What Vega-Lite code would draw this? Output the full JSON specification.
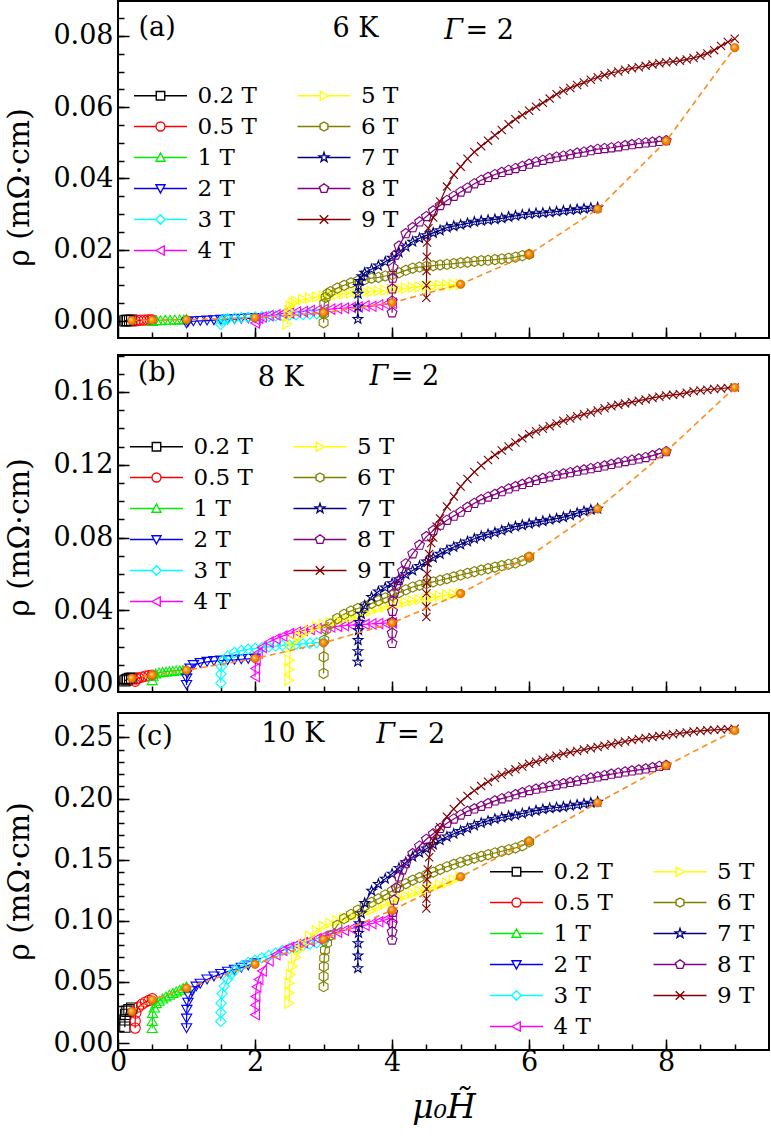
{
"$schema":"https://vega.github.io/schema/vega-lite/v6.json",
"background":"white",
"padding":{"left":3,"top":0,"right":0,"bottom":0},
"config":{"view":{"stroke":"black","strokeWidth":2},"axis":{"labelFlush":false,"labelOverlap":false,"domain":false,"grid":false,"tickColor":"black","tickWidth":1.5,"labelColor":"black","titleColor":"black","labelFont":"DejaVu Serif","titleFont":"DejaVu Serif","titleFontWeight":"normal"},"legend":{"labelFont":"DejaVu Serif","labelFontSize":23,"labelColor":"black"}},
"datasets":{
"a":[
{"s":"0.2 T","x":0.1,"y":0},{"s":"0.2 T","x":0.12,"y":0.0001},{"s":"0.2 T","x":0.14,"y":0.0001},{"s":"0.2 T","x":0.17,"y":0.0001},{"s":"0.2 T","x":0.2,"y":0.0002},
{"s":"0.5 T","x":0.25,"y":0},{"s":"0.5 T","x":0.29,"y":0.0001},{"s":"0.5 T","x":0.33,"y":0.0002},{"s":"0.5 T","x":0.38,"y":0.0002},{"s":"0.5 T","x":0.43,"y":0.0003},{"s":"0.5 T","x":0.47,"y":0.0003},{"s":"0.5 T","x":0.5,"y":0.0003},
{"s":"1 T","x":0.5,"y":0},{"s":"1 T","x":0.56,"y":0.0002},{"s":"1 T","x":0.62,"y":0.0002},{"s":"1 T","x":0.69,"y":0.0003},{"s":"1 T","x":0.76,"y":0.0003},{"s":"1 T","x":0.83,"y":0.0004},{"s":"1 T","x":0.9,"y":0.0004},{"s":"1 T","x":0.96,"y":0.0004},{"s":"1 T","x":1.0,"y":0.0005},
{"s":"2 T","x":1.0,"y":-0.0007},{"s":"2 T","x":1.02,"y":-0.0003},{"s":"2 T","x":1.1,"y":-0.0001},{"s":"2 T","x":1.2,"y":0},{"s":"2 T","x":1.3,"y":0.0001},{"s":"2 T","x":1.4,"y":0.0002},{"s":"2 T","x":1.5,"y":0.0003},{"s":"2 T","x":1.6,"y":0.0004},{"s":"2 T","x":1.7,"y":0.0005},{"s":"2 T","x":1.8,"y":0.0006},{"s":"2 T","x":1.9,"y":0.0007},{"s":"2 T","x":2.0,"y":0.0008},
{"s":"3 T","x":1.5,"y":-0.001},{"s":"3 T","x":1.51,"y":0},{"s":"3 T","x":1.55,"y":0.0004},{"s":"3 T","x":1.6,"y":0.0006},{"s":"3 T","x":1.7,"y":0.0008},{"s":"3 T","x":1.8,"y":0.0009},{"s":"3 T","x":1.9,"y":0.001},{"s":"3 T","x":2.0,"y":0.0011},{"s":"3 T","x":2.1,"y":0.0012},{"s":"3 T","x":2.2,"y":0.0013},{"s":"3 T","x":2.3,"y":0.0014},{"s":"3 T","x":2.4,"y":0.0015},{"s":"3 T","x":2.5,"y":0.0016},{"s":"3 T","x":2.6,"y":0.0017},{"s":"3 T","x":2.7,"y":0.0018},{"s":"3 T","x":2.8,"y":0.0019},{"s":"3 T","x":2.9,"y":0.002},{"s":"3 T","x":3.0,"y":0.0021},
{"s":"4 T","x":2.0,"y":-0.0006},{"s":"4 T","x":2.01,"y":0.0003},{"s":"4 T","x":2.05,"y":0.0008},{"s":"4 T","x":2.1,"y":0.0011},{"s":"4 T","x":2.2,"y":0.0015},{"s":"4 T","x":2.3,"y":0.0017},{"s":"4 T","x":2.4,"y":0.0021},{"s":"4 T","x":2.5,"y":0.0022},{"s":"4 T","x":2.6,"y":0.0025},{"s":"4 T","x":2.7,"y":0.0026},{"s":"4 T","x":2.8,"y":0.0029},{"s":"4 T","x":2.9,"y":0.003},{"s":"4 T","x":3.0,"y":0.0032},{"s":"4 T","x":3.1,"y":0.0033},{"s":"4 T","x":3.2,"y":0.0035},{"s":"4 T","x":3.3,"y":0.0036},{"s":"4 T","x":3.4,"y":0.0038},{"s":"4 T","x":3.5,"y":0.0039},{"s":"4 T","x":3.6,"y":0.0042},{"s":"4 T","x":3.7,"y":0.0041},{"s":"4 T","x":3.8,"y":0.0045},{"s":"4 T","x":3.9,"y":0.0046},{"s":"4 T","x":4.0,"y":0.0049},
{"s":"5 T","x":2.47,"y":-0.0009},{"s":"5 T","x":2.49,"y":0.0015},{"s":"5 T","x":2.5,"y":0.0028},{"s":"5 T","x":2.52,"y":0.0042},{"s":"5 T","x":2.56,"y":0.005},{"s":"5 T","x":2.6,"y":0.0055},{"s":"5 T","x":2.7,"y":0.006},{"s":"5 T","x":2.8,"y":0.0064},{"s":"5 T","x":2.9,"y":0.0067},{"s":"5 T","x":3.0,"y":0.007},{"s":"5 T","x":3.1,"y":0.0072},{"s":"5 T","x":3.2,"y":0.0074},{"s":"5 T","x":3.3,"y":0.0076},{"s":"5 T","x":3.4,"y":0.0078},{"s":"5 T","x":3.5,"y":0.008},{"s":"5 T","x":3.6,"y":0.0081},{"s":"5 T","x":3.7,"y":0.0082},{"s":"5 T","x":3.8,"y":0.0084},{"s":"5 T","x":3.9,"y":0.0086},{"s":"5 T","x":4.0,"y":0.0088},{"s":"5 T","x":4.1,"y":0.009},{"s":"5 T","x":4.2,"y":0.0092},{"s":"5 T","x":4.3,"y":0.0094},{"s":"5 T","x":4.4,"y":0.0096},{"s":"5 T","x":4.5,"y":0.0097},{"s":"5 T","x":4.6,"y":0.0099},{"s":"5 T","x":4.7,"y":0.01},{"s":"5 T","x":4.8,"y":0.0101},{"s":"5 T","x":4.9,"y":0.0102},{"s":"5 T","x":5.0,"y":0.0103},
{"s":"6 T","x":3.0,"y":-0.0005},{"s":"6 T","x":3.005,"y":0.002},{"s":"6 T","x":3.01,"y":0.0048},{"s":"6 T","x":3.03,"y":0.0066},{"s":"6 T","x":3.06,"y":0.0076},{"s":"6 T","x":3.1,"y":0.0082},{"s":"6 T","x":3.2,"y":0.0092},{"s":"6 T","x":3.3,"y":0.01},{"s":"6 T","x":3.4,"y":0.0107},{"s":"6 T","x":3.5,"y":0.0112},{"s":"6 T","x":3.6,"y":0.0116},{"s":"6 T","x":3.7,"y":0.012},{"s":"6 T","x":3.8,"y":0.0122},{"s":"6 T","x":3.9,"y":0.0126},{"s":"6 T","x":4.0,"y":0.013},{"s":"6 T","x":4.1,"y":0.0135},{"s":"6 T","x":4.2,"y":0.0142},{"s":"6 T","x":4.3,"y":0.0148},{"s":"6 T","x":4.4,"y":0.0151},{"s":"6 T","x":4.5,"y":0.0153},{"s":"6 T","x":4.6,"y":0.0155},{"s":"6 T","x":4.7,"y":0.0157},{"s":"6 T","x":4.8,"y":0.0159},{"s":"6 T","x":4.9,"y":0.0161},{"s":"6 T","x":5.0,"y":0.0163},{"s":"6 T","x":5.1,"y":0.0165},{"s":"6 T","x":5.2,"y":0.0167},{"s":"6 T","x":5.3,"y":0.0169},{"s":"6 T","x":5.4,"y":0.017},{"s":"6 T","x":5.5,"y":0.0172},{"s":"6 T","x":5.6,"y":0.0174},{"s":"6 T","x":5.7,"y":0.0176},{"s":"6 T","x":5.8,"y":0.0179},{"s":"6 T","x":5.9,"y":0.0183},{"s":"6 T","x":6.0,"y":0.0187},
{"s":"7 T","x":3.5,"y":0.0005},{"s":"7 T","x":3.501,"y":0.004},{"s":"7 T","x":3.503,"y":0.0076},{"s":"7 T","x":3.51,"y":0.0098},{"s":"7 T","x":3.53,"y":0.0112},{"s":"7 T","x":3.56,"y":0.0125},{"s":"7 T","x":3.6,"y":0.0135},{"s":"7 T","x":3.7,"y":0.0145},{"s":"7 T","x":3.8,"y":0.0155},{"s":"7 T","x":3.9,"y":0.0166},{"s":"7 T","x":4.0,"y":0.0177},{"s":"7 T","x":4.1,"y":0.0192},{"s":"7 T","x":4.2,"y":0.0208},{"s":"7 T","x":4.3,"y":0.0222},{"s":"7 T","x":4.4,"y":0.0232},{"s":"7 T","x":4.5,"y":0.024},{"s":"7 T","x":4.6,"y":0.0247},{"s":"7 T","x":4.7,"y":0.0254},{"s":"7 T","x":4.8,"y":0.0262},{"s":"7 T","x":4.9,"y":0.0266},{"s":"7 T","x":5.0,"y":0.027},{"s":"7 T","x":5.1,"y":0.0274},{"s":"7 T","x":5.2,"y":0.0278},{"s":"7 T","x":5.3,"y":0.0281},{"s":"7 T","x":5.4,"y":0.0283},{"s":"7 T","x":5.5,"y":0.0285},{"s":"7 T","x":5.6,"y":0.0288},{"s":"7 T","x":5.7,"y":0.0292},{"s":"7 T","x":5.8,"y":0.0295},{"s":"7 T","x":5.9,"y":0.0298},{"s":"7 T","x":6.0,"y":0.03},{"s":"7 T","x":6.1,"y":0.0302},{"s":"7 T","x":6.2,"y":0.0303},{"s":"7 T","x":6.3,"y":0.0305},{"s":"7 T","x":6.4,"y":0.0307},{"s":"7 T","x":6.5,"y":0.0309},{"s":"7 T","x":6.6,"y":0.0311},{"s":"7 T","x":6.7,"y":0.0313},{"s":"7 T","x":6.8,"y":0.0315},{"s":"7 T","x":6.9,"y":0.0317},{"s":"7 T","x":7.0,"y":0.0318},
{"s":"8 T","x":4.0,"y":0.0023},{"s":"8 T","x":4.001,"y":0.0056},{"s":"8 T","x":4.003,"y":0.009},{"s":"8 T","x":4.008,"y":0.012},{"s":"8 T","x":4.015,"y":0.015},{"s":"8 T","x":4.05,"y":0.0185},{"s":"8 T","x":4.1,"y":0.021},{"s":"8 T","x":4.2,"y":0.0245},{"s":"8 T","x":4.3,"y":0.0262},{"s":"8 T","x":4.4,"y":0.0278},{"s":"8 T","x":4.5,"y":0.0293},{"s":"8 T","x":4.6,"y":0.0309},{"s":"8 T","x":4.7,"y":0.0324},{"s":"8 T","x":4.8,"y":0.0338},{"s":"8 T","x":4.9,"y":0.035},{"s":"8 T","x":5.0,"y":0.0362},{"s":"8 T","x":5.1,"y":0.0373},{"s":"8 T","x":5.2,"y":0.0385},{"s":"8 T","x":5.3,"y":0.0395},{"s":"8 T","x":5.4,"y":0.0403},{"s":"8 T","x":5.5,"y":0.0411},{"s":"8 T","x":5.6,"y":0.0417},{"s":"8 T","x":5.7,"y":0.0423},{"s":"8 T","x":5.8,"y":0.0428},{"s":"8 T","x":5.9,"y":0.0434},{"s":"8 T","x":6.0,"y":0.044},{"s":"8 T","x":6.1,"y":0.0446},{"s":"8 T","x":6.2,"y":0.0451},{"s":"8 T","x":6.3,"y":0.0456},{"s":"8 T","x":6.4,"y":0.046},{"s":"8 T","x":6.5,"y":0.0463},{"s":"8 T","x":6.6,"y":0.0467},{"s":"8 T","x":6.7,"y":0.0471},{"s":"8 T","x":6.8,"y":0.0474},{"s":"8 T","x":6.9,"y":0.0478},{"s":"8 T","x":7.0,"y":0.0482},{"s":"8 T","x":7.1,"y":0.0484},{"s":"8 T","x":7.2,"y":0.0486},{"s":"8 T","x":7.3,"y":0.0489},{"s":"8 T","x":7.4,"y":0.0492},{"s":"8 T","x":7.5,"y":0.0495},{"s":"8 T","x":7.6,"y":0.0498},{"s":"8 T","x":7.7,"y":0.05},{"s":"8 T","x":7.8,"y":0.0502},{"s":"8 T","x":7.9,"y":0.0504},{"s":"8 T","x":8.0,"y":0.0506},
{"s":"9 T","x":4.5,"y":0.0065},{"s":"9 T","x":4.501,"y":0.01},{"s":"9 T","x":4.503,"y":0.014},{"s":"9 T","x":4.506,"y":0.018},{"s":"9 T","x":4.51,"y":0.022},{"s":"9 T","x":4.53,"y":0.026},{"s":"9 T","x":4.6,"y":0.029},{"s":"9 T","x":4.7,"y":0.0335},{"s":"9 T","x":4.8,"y":0.0377},{"s":"9 T","x":4.9,"y":0.041},{"s":"9 T","x":5.0,"y":0.0433},{"s":"9 T","x":5.1,"y":0.0455},{"s":"9 T","x":5.2,"y":0.0474},{"s":"9 T","x":5.3,"y":0.049},{"s":"9 T","x":5.4,"y":0.0506},{"s":"9 T","x":5.5,"y":0.0521},{"s":"9 T","x":5.6,"y":0.0536},{"s":"9 T","x":5.7,"y":0.0552},{"s":"9 T","x":5.8,"y":0.0566},{"s":"9 T","x":5.9,"y":0.0578},{"s":"9 T","x":6.0,"y":0.059},{"s":"9 T","x":6.1,"y":0.0601},{"s":"9 T","x":6.2,"y":0.0612},{"s":"9 T","x":6.3,"y":0.0624},{"s":"9 T","x":6.4,"y":0.0636},{"s":"9 T","x":6.5,"y":0.0646},{"s":"9 T","x":6.6,"y":0.0654},{"s":"9 T","x":6.7,"y":0.0662},{"s":"9 T","x":6.8,"y":0.0669},{"s":"9 T","x":6.9,"y":0.0677},{"s":"9 T","x":7.0,"y":0.0684},{"s":"9 T","x":7.1,"y":0.069},{"s":"9 T","x":7.2,"y":0.0696},{"s":"9 T","x":7.3,"y":0.07},{"s":"9 T","x":7.4,"y":0.0705},{"s":"9 T","x":7.5,"y":0.0709},{"s":"9 T","x":7.6,"y":0.0712},{"s":"9 T","x":7.7,"y":0.0716},{"s":"9 T","x":7.8,"y":0.072},{"s":"9 T","x":7.9,"y":0.0723},{"s":"9 T","x":8.0,"y":0.0726},{"s":"9 T","x":8.1,"y":0.0728},{"s":"9 T","x":8.2,"y":0.073},{"s":"9 T","x":8.3,"y":0.0734},{"s":"9 T","x":8.4,"y":0.0738},{"s":"9 T","x":8.5,"y":0.0744},{"s":"9 T","x":8.6,"y":0.0751},{"s":"9 T","x":8.7,"y":0.076},{"s":"9 T","x":8.8,"y":0.0772},{"s":"9 T","x":8.9,"y":0.0783},{"s":"9 T","x":9.0,"y":0.0792}
],
"b":[
{"s":"0.2 T","x":0.1,"y":0.0012},{"s":"0.2 T","x":0.12,"y":0.0018},{"s":"0.2 T","x":0.14,"y":0.0022},{"s":"0.2 T","x":0.17,"y":0.0025},{"s":"0.2 T","x":0.2,"y":0.0027},
{"s":"0.5 T","x":0.25,"y":0.001},{"s":"0.5 T","x":0.27,"y":0.0022},{"s":"0.5 T","x":0.3,"y":0.0028},{"s":"0.5 T","x":0.35,"y":0.0033},{"s":"0.5 T","x":0.4,"y":0.0038},{"s":"0.5 T","x":0.45,"y":0.0041},{"s":"0.5 T","x":0.5,"y":0.0044},
{"s":"1 T","x":0.5,"y":0.0016},{"s":"1 T","x":0.51,"y":0.004},{"s":"1 T","x":0.55,"y":0.0053},{"s":"1 T","x":0.6,"y":0.0058},{"s":"1 T","x":0.65,"y":0.0061},{"s":"1 T","x":0.7,"y":0.0063},{"s":"1 T","x":0.75,"y":0.0065},{"s":"1 T","x":0.8,"y":0.0067},{"s":"1 T","x":0.85,"y":0.0069},{"s":"1 T","x":0.9,"y":0.007},{"s":"1 T","x":0.95,"y":0.0072},{"s":"1 T","x":1.0,"y":0.0073},
{"s":"2 T","x":1.0,"y":-0.001},{"s":"2 T","x":1.002,"y":0.0025},{"s":"2 T","x":1.01,"y":0.0053},{"s":"2 T","x":1.05,"y":0.008},{"s":"2 T","x":1.1,"y":0.0099},{"s":"2 T","x":1.2,"y":0.011},{"s":"2 T","x":1.3,"y":0.0117},{"s":"2 T","x":1.4,"y":0.0121},{"s":"2 T","x":1.5,"y":0.0124},{"s":"2 T","x":1.6,"y":0.0126},{"s":"2 T","x":1.7,"y":0.0128},{"s":"2 T","x":1.8,"y":0.0131},{"s":"2 T","x":1.9,"y":0.0133},{"s":"2 T","x":2.0,"y":0.0135},
{"s":"3 T","x":1.5,"y":0},{"s":"3 T","x":1.502,"y":0.005},{"s":"3 T","x":1.51,"y":0.009},{"s":"3 T","x":1.54,"y":0.0125},{"s":"3 T","x":1.6,"y":0.0148},{"s":"3 T","x":1.7,"y":0.0168},{"s":"3 T","x":1.8,"y":0.0178},{"s":"3 T","x":1.9,"y":0.0186},{"s":"3 T","x":2.0,"y":0.0191},{"s":"3 T","x":2.1,"y":0.0195},{"s":"3 T","x":2.2,"y":0.0199},{"s":"3 T","x":2.3,"y":0.0203},{"s":"3 T","x":2.4,"y":0.0207},{"s":"3 T","x":2.5,"y":0.021},{"s":"3 T","x":2.6,"y":0.0213},{"s":"3 T","x":2.7,"y":0.0216},{"s":"3 T","x":2.8,"y":0.0219},{"s":"3 T","x":2.9,"y":0.0222},{"s":"3 T","x":3.0,"y":0.0224},
{"s":"4 T","x":2.0,"y":0.0035},{"s":"4 T","x":2.002,"y":0.008},{"s":"4 T","x":2.01,"y":0.0126},{"s":"4 T","x":2.04,"y":0.0165},{"s":"4 T","x":2.1,"y":0.0196},{"s":"4 T","x":2.2,"y":0.0225},{"s":"4 T","x":2.3,"y":0.0243},{"s":"4 T","x":2.4,"y":0.0258},{"s":"4 T","x":2.5,"y":0.0272},{"s":"4 T","x":2.6,"y":0.0281},{"s":"4 T","x":2.7,"y":0.0289},{"s":"4 T","x":2.8,"y":0.0295},{"s":"4 T","x":2.9,"y":0.03},{"s":"4 T","x":3.0,"y":0.0304},{"s":"4 T","x":3.1,"y":0.0308},{"s":"4 T","x":3.2,"y":0.0312},{"s":"4 T","x":3.3,"y":0.0316},{"s":"4 T","x":3.4,"y":0.0319},{"s":"4 T","x":3.5,"y":0.0321},{"s":"4 T","x":3.6,"y":0.0323},{"s":"4 T","x":3.7,"y":0.0325},{"s":"4 T","x":3.8,"y":0.0327},{"s":"4 T","x":3.9,"y":0.0329},{"s":"4 T","x":4.0,"y":0.0331},
{"s":"5 T","x":2.5,"y":0.0016},{"s":"5 T","x":2.502,"y":0.0075},{"s":"5 T","x":2.505,"y":0.0126},{"s":"5 T","x":2.52,"y":0.0199},{"s":"5 T","x":2.57,"y":0.023},{"s":"5 T","x":2.65,"y":0.0254},{"s":"5 T","x":2.7,"y":0.0268},{"s":"5 T","x":2.8,"y":0.029},{"s":"5 T","x":2.9,"y":0.031},{"s":"5 T","x":3.0,"y":0.0322},{"s":"5 T","x":3.1,"y":0.0333},{"s":"5 T","x":3.2,"y":0.0343},{"s":"5 T","x":3.3,"y":0.0353},{"s":"5 T","x":3.4,"y":0.0362},{"s":"5 T","x":3.5,"y":0.0372},{"s":"5 T","x":3.6,"y":0.0383},{"s":"5 T","x":3.7,"y":0.0396},{"s":"5 T","x":3.8,"y":0.041},{"s":"5 T","x":3.9,"y":0.042},{"s":"5 T","x":4.0,"y":0.0428},{"s":"5 T","x":4.1,"y":0.0436},{"s":"5 T","x":4.2,"y":0.0444},{"s":"5 T","x":4.3,"y":0.0452},{"s":"5 T","x":4.4,"y":0.0458},{"s":"5 T","x":4.5,"y":0.0465},{"s":"5 T","x":4.6,"y":0.0472},{"s":"5 T","x":4.7,"y":0.0478},{"s":"5 T","x":4.8,"y":0.0483},{"s":"5 T","x":4.9,"y":0.0488},{"s":"5 T","x":5.0,"y":0.0492},
{"s":"6 T","x":3.0,"y":0.0053},{"s":"6 T","x":3.002,"y":0.0144},{"s":"6 T","x":3.01,"y":0.0236},{"s":"6 T","x":3.04,"y":0.0295},{"s":"6 T","x":3.1,"y":0.0325},{"s":"6 T","x":3.2,"y":0.0355},{"s":"6 T","x":3.3,"y":0.0378},{"s":"6 T","x":3.4,"y":0.0396},{"s":"6 T","x":3.5,"y":0.041},{"s":"6 T","x":3.6,"y":0.0424},{"s":"6 T","x":3.7,"y":0.0438},{"s":"6 T","x":3.8,"y":0.0453},{"s":"6 T","x":3.9,"y":0.0468},{"s":"6 T","x":4.0,"y":0.0482},{"s":"6 T","x":4.1,"y":0.0497},{"s":"6 T","x":4.2,"y":0.0513},{"s":"6 T","x":4.3,"y":0.0528},{"s":"6 T","x":4.4,"y":0.0538},{"s":"6 T","x":4.5,"y":0.0547},{"s":"6 T","x":4.6,"y":0.0556},{"s":"6 T","x":4.7,"y":0.0565},{"s":"6 T","x":4.8,"y":0.0574},{"s":"6 T","x":4.9,"y":0.0584},{"s":"6 T","x":5.0,"y":0.0594},{"s":"6 T","x":5.1,"y":0.0603},{"s":"6 T","x":5.2,"y":0.0612},{"s":"6 T","x":5.3,"y":0.0621},{"s":"6 T","x":5.4,"y":0.0629},{"s":"6 T","x":5.5,"y":0.0637},{"s":"6 T","x":5.6,"y":0.0645},{"s":"6 T","x":5.7,"y":0.0653},{"s":"6 T","x":5.8,"y":0.066},{"s":"6 T","x":5.9,"y":0.0672},{"s":"6 T","x":6.0,"y":0.0692},
{"s":"7 T","x":3.5,"y":0.0117},{"s":"7 T","x":3.501,"y":0.0175},{"s":"7 T","x":3.503,"y":0.0236},{"s":"7 T","x":3.51,"y":0.029},{"s":"7 T","x":3.52,"y":0.0335},{"s":"7 T","x":3.55,"y":0.038},{"s":"7 T","x":3.6,"y":0.0425},{"s":"7 T","x":3.7,"y":0.0473},{"s":"7 T","x":3.8,"y":0.0503},{"s":"7 T","x":3.9,"y":0.0525},{"s":"7 T","x":4.0,"y":0.0548},{"s":"7 T","x":4.1,"y":0.057},{"s":"7 T","x":4.2,"y":0.0597},{"s":"7 T","x":4.3,"y":0.0619},{"s":"7 T","x":4.4,"y":0.0643},{"s":"7 T","x":4.5,"y":0.0667},{"s":"7 T","x":4.6,"y":0.0689},{"s":"7 T","x":4.7,"y":0.071},{"s":"7 T","x":4.8,"y":0.073},{"s":"7 T","x":4.9,"y":0.0748},{"s":"7 T","x":5.0,"y":0.0762},{"s":"7 T","x":5.1,"y":0.0778},{"s":"7 T","x":5.2,"y":0.0793},{"s":"7 T","x":5.3,"y":0.0806},{"s":"7 T","x":5.4,"y":0.0817},{"s":"7 T","x":5.5,"y":0.0827},{"s":"7 T","x":5.6,"y":0.0838},{"s":"7 T","x":5.7,"y":0.085},{"s":"7 T","x":5.8,"y":0.086},{"s":"7 T","x":5.9,"y":0.0868},{"s":"7 T","x":6.0,"y":0.0875},{"s":"7 T","x":6.1,"y":0.0882},{"s":"7 T","x":6.2,"y":0.089},{"s":"7 T","x":6.3,"y":0.0897},{"s":"7 T","x":6.4,"y":0.0904},{"s":"7 T","x":6.5,"y":0.0912},{"s":"7 T","x":6.6,"y":0.0922},{"s":"7 T","x":6.7,"y":0.0934},{"s":"7 T","x":6.8,"y":0.0944},{"s":"7 T","x":6.9,"y":0.0952},{"s":"7 T","x":7.0,"y":0.0958},
{"s":"8 T","x":4.0,"y":0.0218},{"s":"8 T","x":4.001,"y":0.0275},{"s":"8 T","x":4.003,"y":0.0335},{"s":"8 T","x":4.006,"y":0.0395},{"s":"8 T","x":4.012,"y":0.045},{"s":"8 T","x":4.03,"y":0.0495},{"s":"8 T","x":4.06,"y":0.0535},{"s":"8 T","x":4.1,"y":0.0564},{"s":"8 T","x":4.15,"y":0.0615},{"s":"8 T","x":4.2,"y":0.0656},{"s":"8 T","x":4.3,"y":0.0711},{"s":"8 T","x":4.4,"y":0.0758},{"s":"8 T","x":4.5,"y":0.0805},{"s":"8 T","x":4.6,"y":0.0838},{"s":"8 T","x":4.7,"y":0.0868},{"s":"8 T","x":4.8,"y":0.0895},{"s":"8 T","x":4.9,"y":0.0918},{"s":"8 T","x":5.0,"y":0.094},{"s":"8 T","x":5.1,"y":0.0966},{"s":"8 T","x":5.2,"y":0.0988},{"s":"8 T","x":5.3,"y":0.1008},{"s":"8 T","x":5.4,"y":0.1023},{"s":"8 T","x":5.5,"y":0.1037},{"s":"8 T","x":5.6,"y":0.1052},{"s":"8 T","x":5.7,"y":0.1067},{"s":"8 T","x":5.8,"y":0.108},{"s":"8 T","x":5.9,"y":0.1092},{"s":"8 T","x":6.0,"y":0.1103},{"s":"8 T","x":6.1,"y":0.1114},{"s":"8 T","x":6.2,"y":0.1125},{"s":"8 T","x":6.3,"y":0.1134},{"s":"8 T","x":6.4,"y":0.1142},{"s":"8 T","x":6.5,"y":0.115},{"s":"8 T","x":6.6,"y":0.1157},{"s":"8 T","x":6.7,"y":0.1165},{"s":"8 T","x":6.8,"y":0.1172},{"s":"8 T","x":6.9,"y":0.1179},{"s":"8 T","x":7.0,"y":0.1186},{"s":"8 T","x":7.1,"y":0.1194},{"s":"8 T","x":7.2,"y":0.1202},{"s":"8 T","x":7.3,"y":0.121},{"s":"8 T","x":7.4,"y":0.1218},{"s":"8 T","x":7.5,"y":0.1225},{"s":"8 T","x":7.6,"y":0.1232},{"s":"8 T","x":7.7,"y":0.124},{"s":"8 T","x":7.8,"y":0.125},{"s":"8 T","x":7.9,"y":0.1261},{"s":"8 T","x":8.0,"y":0.1272},
{"s":"9 T","x":4.5,"y":0.0363},{"s":"9 T","x":4.501,"y":0.042},{"s":"9 T","x":4.502,"y":0.0493},{"s":"9 T","x":4.505,"y":0.055},{"s":"9 T","x":4.51,"y":0.06},{"s":"9 T","x":4.52,"y":0.066},{"s":"9 T","x":4.54,"y":0.071},{"s":"9 T","x":4.57,"y":0.077},{"s":"9 T","x":4.6,"y":0.08},{"s":"9 T","x":4.65,"y":0.086},{"s":"9 T","x":4.7,"y":0.0905},{"s":"9 T","x":4.8,"y":0.097},{"s":"9 T","x":4.9,"y":0.1025},{"s":"9 T","x":5.0,"y":0.108},{"s":"9 T","x":5.1,"y":0.1122},{"s":"9 T","x":5.2,"y":0.116},{"s":"9 T","x":5.3,"y":0.1195},{"s":"9 T","x":5.4,"y":0.1226},{"s":"9 T","x":5.5,"y":0.1254},{"s":"9 T","x":5.6,"y":0.1278},{"s":"9 T","x":5.7,"y":0.13},{"s":"9 T","x":5.8,"y":0.1322},{"s":"9 T","x":5.9,"y":0.1345},{"s":"9 T","x":6.0,"y":0.1368},{"s":"9 T","x":6.1,"y":0.1384},{"s":"9 T","x":6.2,"y":0.1398},{"s":"9 T","x":6.3,"y":0.1412},{"s":"9 T","x":6.4,"y":0.1427},{"s":"9 T","x":6.5,"y":0.1442},{"s":"9 T","x":6.6,"y":0.1454},{"s":"9 T","x":6.7,"y":0.1466},{"s":"9 T","x":6.8,"y":0.1477},{"s":"9 T","x":6.9,"y":0.1487},{"s":"9 T","x":7.0,"y":0.1498},{"s":"9 T","x":7.1,"y":0.151},{"s":"9 T","x":7.2,"y":0.1521},{"s":"9 T","x":7.3,"y":0.1529},{"s":"9 T","x":7.4,"y":0.1537},{"s":"9 T","x":7.5,"y":0.1544},{"s":"9 T","x":7.6,"y":0.1552},{"s":"9 T","x":7.7,"y":0.1559},{"s":"9 T","x":7.8,"y":0.1567},{"s":"9 T","x":7.9,"y":0.1574},{"s":"9 T","x":8.0,"y":0.158},{"s":"9 T","x":8.1,"y":0.1584},{"s":"9 T","x":8.2,"y":0.1588},{"s":"9 T","x":8.3,"y":0.1596},{"s":"9 T","x":8.4,"y":0.1604},{"s":"9 T","x":8.5,"y":0.1608},{"s":"9 T","x":8.6,"y":0.1612},{"s":"9 T","x":8.7,"y":0.1616},{"s":"9 T","x":8.8,"y":0.1619},{"s":"9 T","x":8.9,"y":0.1622},{"s":"9 T","x":9.0,"y":0.1625}
],
"c":[
{"s":"0.2 T","x":0.1,"y":0.013},{"s":"0.2 T","x":0.101,"y":0.019},{"s":"0.2 T","x":0.11,"y":0.0235},{"s":"0.2 T","x":0.13,"y":0.026},{"s":"0.2 T","x":0.16,"y":0.0272},{"s":"0.2 T","x":0.2,"y":0.0285},
{"s":"0.5 T","x":0.25,"y":0.0122},{"s":"0.5 T","x":0.251,"y":0.018},{"s":"0.5 T","x":0.26,"y":0.0245},{"s":"0.5 T","x":0.3,"y":0.0295},{"s":"0.5 T","x":0.35,"y":0.0318},{"s":"0.5 T","x":0.4,"y":0.0335},{"s":"0.5 T","x":0.45,"y":0.0348},{"s":"0.5 T","x":0.5,"y":0.0362},
{"s":"1 T","x":0.5,"y":0.0122},{"s":"1 T","x":0.501,"y":0.018},{"s":"1 T","x":0.505,"y":0.0245},{"s":"1 T","x":0.53,"y":0.029},{"s":"1 T","x":0.56,"y":0.0326},{"s":"1 T","x":0.6,"y":0.0345},{"s":"1 T","x":0.65,"y":0.0364},{"s":"1 T","x":0.7,"y":0.0381},{"s":"1 T","x":0.75,"y":0.0395},{"s":"1 T","x":0.8,"y":0.0409},{"s":"1 T","x":0.85,"y":0.0422},{"s":"1 T","x":0.9,"y":0.0436},{"s":"1 T","x":0.95,"y":0.0449},{"s":"1 T","x":1.0,"y":0.0462},
{"s":"2 T","x":1.0,"y":0.0122},{"s":"2 T","x":1.001,"y":0.02},{"s":"2 T","x":1.005,"y":0.0272},{"s":"2 T","x":1.02,"y":0.033},{"s":"2 T","x":1.04,"y":0.0381},{"s":"2 T","x":1.08,"y":0.0425},{"s":"2 T","x":1.14,"y":0.0462},{"s":"2 T","x":1.2,"y":0.0485},{"s":"2 T","x":1.3,"y":0.052},{"s":"2 T","x":1.4,"y":0.0545},{"s":"2 T","x":1.5,"y":0.0565},{"s":"2 T","x":1.6,"y":0.0584},{"s":"2 T","x":1.7,"y":0.06},{"s":"2 T","x":1.8,"y":0.0617},{"s":"2 T","x":1.9,"y":0.0635},{"s":"2 T","x":2.0,"y":0.0652},
{"s":"3 T","x":1.5,"y":0.0177},{"s":"3 T","x":1.501,"y":0.025},{"s":"3 T","x":1.505,"y":0.0326},{"s":"3 T","x":1.52,"y":0.0405},{"s":"3 T","x":1.55,"y":0.0465},{"s":"3 T","x":1.6,"y":0.0522},{"s":"3 T","x":1.65,"y":0.0562},{"s":"3 T","x":1.7,"y":0.0592},{"s":"3 T","x":1.8,"y":0.0632},{"s":"3 T","x":1.9,"y":0.066},{"s":"3 T","x":2.0,"y":0.0678},{"s":"3 T","x":2.1,"y":0.0697},{"s":"3 T","x":2.2,"y":0.0716},{"s":"3 T","x":2.3,"y":0.0735},{"s":"3 T","x":2.4,"y":0.0757},{"s":"3 T","x":2.5,"y":0.0772},{"s":"3 T","x":2.6,"y":0.0785},{"s":"3 T","x":2.7,"y":0.0798},{"s":"3 T","x":2.8,"y":0.081},{"s":"3 T","x":2.9,"y":0.082},{"s":"3 T","x":3.0,"y":0.0832},
{"s":"4 T","x":2.0,"y":0.0231},{"s":"4 T","x":2.001,"y":0.031},{"s":"4 T","x":2.005,"y":0.0381},{"s":"4 T","x":2.02,"y":0.046},{"s":"4 T","x":2.05,"y":0.052},{"s":"4 T","x":2.1,"y":0.059},{"s":"4 T","x":2.2,"y":0.0672},{"s":"4 T","x":2.3,"y":0.0722},{"s":"4 T","x":2.4,"y":0.0758},{"s":"4 T","x":2.5,"y":0.0783},{"s":"4 T","x":2.6,"y":0.0805},{"s":"4 T","x":2.7,"y":0.0822},{"s":"4 T","x":2.8,"y":0.0836},{"s":"4 T","x":2.9,"y":0.0855},{"s":"4 T","x":3.0,"y":0.0875},{"s":"4 T","x":3.1,"y":0.0893},{"s":"4 T","x":3.2,"y":0.0907},{"s":"4 T","x":3.3,"y":0.0921},{"s":"4 T","x":3.4,"y":0.0935},{"s":"4 T","x":3.5,"y":0.0949},{"s":"4 T","x":3.6,"y":0.0963},{"s":"4 T","x":3.7,"y":0.0977},{"s":"4 T","x":3.8,"y":0.0992},{"s":"4 T","x":3.9,"y":0.1008},{"s":"4 T","x":4.0,"y":0.1025},
{"s":"5 T","x":2.5,"y":0.0326},{"s":"5 T","x":2.501,"y":0.041},{"s":"5 T","x":2.505,"y":0.0489},{"s":"5 T","x":2.52,"y":0.056},{"s":"5 T","x":2.55,"y":0.0626},{"s":"5 T","x":2.6,"y":0.0702},{"s":"5 T","x":2.65,"y":0.0761},{"s":"5 T","x":2.7,"y":0.0805},{"s":"5 T","x":2.8,"y":0.0873},{"s":"5 T","x":2.9,"y":0.0918},{"s":"5 T","x":3.0,"y":0.0955},{"s":"5 T","x":3.1,"y":0.098},{"s":"5 T","x":3.2,"y":0.1},{"s":"5 T","x":3.3,"y":0.1018},{"s":"5 T","x":3.4,"y":0.1034},{"s":"5 T","x":3.5,"y":0.105},{"s":"5 T","x":3.6,"y":0.1065},{"s":"5 T","x":3.7,"y":0.1088},{"s":"5 T","x":3.8,"y":0.1112},{"s":"5 T","x":3.9,"y":0.1138},{"s":"5 T","x":4.0,"y":0.1162},{"s":"5 T","x":4.1,"y":0.1185},{"s":"5 T","x":4.2,"y":0.1205},{"s":"5 T","x":4.3,"y":0.1224},{"s":"5 T","x":4.4,"y":0.1242},{"s":"5 T","x":4.5,"y":0.1259},{"s":"5 T","x":4.6,"y":0.1275},{"s":"5 T","x":4.7,"y":0.1292},{"s":"5 T","x":4.8,"y":0.1307},{"s":"5 T","x":4.9,"y":0.1333},{"s":"5 T","x":5.0,"y":0.136},
{"s":"6 T","x":3.0,"y":0.0462},{"s":"6 T","x":3.001,"y":0.0545},{"s":"6 T","x":3.004,"y":0.0626},{"s":"6 T","x":3.01,"y":0.0695},{"s":"6 T","x":3.02,"y":0.0761},{"s":"6 T","x":3.05,"y":0.082},{"s":"6 T","x":3.1,"y":0.088},{"s":"6 T","x":3.2,"y":0.0963},{"s":"6 T","x":3.3,"y":0.1018},{"s":"6 T","x":3.4,"y":0.1052},{"s":"6 T","x":3.5,"y":0.1087},{"s":"6 T","x":3.6,"y":0.1122},{"s":"6 T","x":3.7,"y":0.1151},{"s":"6 T","x":3.8,"y":0.118},{"s":"6 T","x":3.9,"y":0.1212},{"s":"6 T","x":4.0,"y":0.1243},{"s":"6 T","x":4.1,"y":0.1274},{"s":"6 T","x":4.2,"y":0.1304},{"s":"6 T","x":4.3,"y":0.1332},{"s":"6 T","x":4.4,"y":0.1354},{"s":"6 T","x":4.5,"y":0.1376},{"s":"6 T","x":4.6,"y":0.1398},{"s":"6 T","x":4.7,"y":0.142},{"s":"6 T","x":4.8,"y":0.1442},{"s":"6 T","x":4.9,"y":0.1462},{"s":"6 T","x":5.0,"y":0.1479},{"s":"6 T","x":5.1,"y":0.1496},{"s":"6 T","x":5.2,"y":0.1512},{"s":"6 T","x":5.3,"y":0.1527},{"s":"6 T","x":5.4,"y":0.1541},{"s":"6 T","x":5.5,"y":0.1555},{"s":"6 T","x":5.6,"y":0.1569},{"s":"6 T","x":5.7,"y":0.1582},{"s":"6 T","x":5.8,"y":0.1596},{"s":"6 T","x":5.9,"y":0.1615},{"s":"6 T","x":6.0,"y":0.1645},
{"s":"7 T","x":3.5,"y":0.0612},{"s":"7 T","x":3.501,"y":0.0715},{"s":"7 T","x":3.503,"y":0.0816},{"s":"7 T","x":3.51,"y":0.09},{"s":"7 T","x":3.52,"y":0.0979},{"s":"7 T","x":3.55,"y":0.106},{"s":"7 T","x":3.6,"y":0.1145},{"s":"7 T","x":3.7,"y":0.1245},{"s":"7 T","x":3.8,"y":0.13},{"s":"7 T","x":3.9,"y":0.1343},{"s":"7 T","x":4.0,"y":0.1385},{"s":"7 T","x":4.1,"y":0.1432},{"s":"7 T","x":4.2,"y":0.1478},{"s":"7 T","x":4.3,"y":0.1523},{"s":"7 T","x":4.4,"y":0.1557},{"s":"7 T","x":4.5,"y":0.159},{"s":"7 T","x":4.6,"y":0.1625},{"s":"7 T","x":4.7,"y":0.1658},{"s":"7 T","x":4.8,"y":0.1688},{"s":"7 T","x":4.9,"y":0.1712},{"s":"7 T","x":5.0,"y":0.1734},{"s":"7 T","x":5.1,"y":0.1757},{"s":"7 T","x":5.2,"y":0.178},{"s":"7 T","x":5.3,"y":0.18},{"s":"7 T","x":5.4,"y":0.1817},{"s":"7 T","x":5.5,"y":0.1833},{"s":"7 T","x":5.6,"y":0.1845},{"s":"7 T","x":5.7,"y":0.1856},{"s":"7 T","x":5.8,"y":0.1866},{"s":"7 T","x":5.9,"y":0.1878},{"s":"7 T","x":6.0,"y":0.189},{"s":"7 T","x":6.1,"y":0.1901},{"s":"7 T","x":6.2,"y":0.1912},{"s":"7 T","x":6.3,"y":0.1921},{"s":"7 T","x":6.4,"y":0.1927},{"s":"7 T","x":6.5,"y":0.1932},{"s":"7 T","x":6.6,"y":0.1941},{"s":"7 T","x":6.7,"y":0.1949},{"s":"7 T","x":6.8,"y":0.1957},{"s":"7 T","x":6.9,"y":0.1965},{"s":"7 T","x":7.0,"y":0.1973},
{"s":"8 T","x":4.0,"y":0.0843},{"s":"8 T","x":4.001,"y":0.091},{"s":"8 T","x":4.003,"y":0.0979},{"s":"8 T","x":4.01,"y":0.107},{"s":"8 T","x":4.03,"y":0.1169},{"s":"8 T","x":4.06,"y":0.127},{"s":"8 T","x":4.1,"y":0.136},{"s":"8 T","x":4.15,"y":0.1418},{"s":"8 T","x":4.2,"y":0.1468},{"s":"8 T","x":4.3,"y":0.155},{"s":"8 T","x":4.4,"y":0.1612},{"s":"8 T","x":4.5,"y":0.1667},{"s":"8 T","x":4.6,"y":0.1712},{"s":"8 T","x":4.7,"y":0.1756},{"s":"8 T","x":4.8,"y":0.1798},{"s":"8 T","x":4.9,"y":0.1833},{"s":"8 T","x":5.0,"y":0.1866},{"s":"8 T","x":5.1,"y":0.1895},{"s":"8 T","x":5.2,"y":0.1916},{"s":"8 T","x":5.3,"y":0.1937},{"s":"8 T","x":5.4,"y":0.1959},{"s":"8 T","x":5.5,"y":0.1981},{"s":"8 T","x":5.6,"y":0.1999},{"s":"8 T","x":5.7,"y":0.2015},{"s":"8 T","x":5.8,"y":0.2032},{"s":"8 T","x":5.9,"y":0.2049},{"s":"8 T","x":6.0,"y":0.2066},{"s":"8 T","x":6.1,"y":0.2077},{"s":"8 T","x":6.2,"y":0.2088},{"s":"8 T","x":6.3,"y":0.21},{"s":"8 T","x":6.4,"y":0.2111},{"s":"8 T","x":6.5,"y":0.2122},{"s":"8 T","x":6.6,"y":0.2133},{"s":"8 T","x":6.7,"y":0.2144},{"s":"8 T","x":6.8,"y":0.2156},{"s":"8 T","x":6.9,"y":0.2167},{"s":"8 T","x":7.0,"y":0.2178},{"s":"8 T","x":7.1,"y":0.2189},{"s":"8 T","x":7.2,"y":0.22},{"s":"8 T","x":7.3,"y":0.2209},{"s":"8 T","x":7.4,"y":0.2218},{"s":"8 T","x":7.5,"y":0.2227},{"s":"8 T","x":7.6,"y":0.2235},{"s":"8 T","x":7.7,"y":0.2243},{"s":"8 T","x":7.8,"y":0.2253},{"s":"8 T","x":7.9,"y":0.2264},{"s":"8 T","x":8.0,"y":0.2272},
{"s":"9 T","x":4.5,"y":0.11},{"s":"9 T","x":4.501,"y":0.118},{"s":"9 T","x":4.503,"y":0.126},{"s":"9 T","x":4.51,"y":0.134},{"s":"9 T","x":4.52,"y":0.142},{"s":"9 T","x":4.54,"y":0.152},{"s":"9 T","x":4.57,"y":0.16},{"s":"9 T","x":4.6,"y":0.1655},{"s":"9 T","x":4.65,"y":0.1715},{"s":"9 T","x":4.7,"y":0.1765},{"s":"9 T","x":4.8,"y":0.1852},{"s":"9 T","x":4.9,"y":0.1915},{"s":"9 T","x":5.0,"y":0.1972},{"s":"9 T","x":5.1,"y":0.2022},{"s":"9 T","x":5.2,"y":0.2065},{"s":"9 T","x":5.3,"y":0.2102},{"s":"9 T","x":5.4,"y":0.2138},{"s":"9 T","x":5.5,"y":0.217},{"s":"9 T","x":5.6,"y":0.2195},{"s":"9 T","x":5.7,"y":0.2218},{"s":"9 T","x":5.8,"y":0.2239},{"s":"9 T","x":5.9,"y":0.2262},{"s":"9 T","x":6.0,"y":0.2284},{"s":"9 T","x":6.1,"y":0.2301},{"s":"9 T","x":6.2,"y":0.2317},{"s":"9 T","x":6.3,"y":0.2334},{"s":"9 T","x":6.4,"y":0.2351},{"s":"9 T","x":6.5,"y":0.2367},{"s":"9 T","x":6.6,"y":0.2378},{"s":"9 T","x":6.7,"y":0.2389},{"s":"9 T","x":6.8,"y":0.2401},{"s":"9 T","x":6.9,"y":0.2412},{"s":"9 T","x":7.0,"y":0.2422},{"s":"9 T","x":7.1,"y":0.2433},{"s":"9 T","x":7.2,"y":0.2444},{"s":"9 T","x":7.3,"y":0.2456},{"s":"9 T","x":7.4,"y":0.2467},{"s":"9 T","x":7.5,"y":0.2478},{"s":"9 T","x":7.6,"y":0.2487},{"s":"9 T","x":7.7,"y":0.2495},{"s":"9 T","x":7.8,"y":0.2503},{"s":"9 T","x":7.9,"y":0.2511},{"s":"9 T","x":8.0,"y":0.2518},{"s":"9 T","x":8.1,"y":0.2526},{"s":"9 T","x":8.2,"y":0.2534},{"s":"9 T","x":8.3,"y":0.2541},{"s":"9 T","x":8.4,"y":0.2548},{"s":"9 T","x":8.5,"y":0.2553},{"s":"9 T","x":8.6,"y":0.2558},{"s":"9 T","x":8.7,"y":0.2562},{"s":"9 T","x":8.8,"y":0.2565},{"s":"9 T","x":8.9,"y":0.2568},{"s":"9 T","x":9.0,"y":0.2571}
],
"ea":[{"x":0.2,"y":0.0001},{"x":0.5,"y":0.0002},{"x":1,"y":0.0003},{"x":2,"y":0.0009},{"x":3,"y":0.0023},{"x":4,"y":0.0051},{"x":5,"y":0.0103},{"x":6,"y":0.0187},{"x":7,"y":0.0314},{"x":8,"y":0.0505},{"x":9,"y":0.0767}],
"eb":[{"x":0.2,"y":0.0026},{"x":0.5,"y":0.0044},{"x":1,"y":0.0071},{"x":2,"y":0.0135},{"x":3,"y":0.0221},{"x":4,"y":0.033},{"x":5,"y":0.0492},{"x":6,"y":0.0696},{"x":7,"y":0.0957},{"x":8,"y":0.1273},{"x":9,"y":0.1624}],
"ec":[{"x":0.2,"y":0.0258},{"x":0.5,"y":0.0353},{"x":1,"y":0.0449},{"x":2,"y":0.0644},{"x":3,"y":0.0848},{"x":4,"y":0.1087},{"x":5,"y":0.136},{"x":6,"y":0.1653},{"x":7,"y":0.1966},{"x":8,"y":0.227},{"x":9,"y":0.2556}],
"ta":[{"x":0.3,"y":0.0821,"t":"(a)"},{"x":3.13,"y":0.0818,"t":"6 K"},{"x":5.07,"y":0.0813,"t":"= 2"}],
"ga":[{"x":4.76,"y":0.0813,"t":"Γ"}],
"tb":[{"x":0.29,"y":0.1704,"t":"(b)"},{"x":2.04,"y":0.1677,"t":"8 K"},{"x":3.98,"y":0.168,"t":"= 2"}],
"gb":[{"x":3.67,"y":0.168,"t":"Γ"}],
"tc":[{"x":0.27,"y":0.2504,"t":"(c)"},{"x":2.09,"y":0.2529,"t":"10 K"},{"x":4.07,"y":0.252,"t":"= 2"}],
"gc":[{"x":3.77,"y":0.252,"t":"Γ"}]
},
"spacing":14,
"resolve":{"scale":{"color":"independent","shape":"independent"},"legend":{"color":"independent","shape":"independent"}},
"vconcat":[
{"width":651,"height":337,
"resolve":{"scale":{"color":"independent","shape":"independent"},"legend":{"color":"independent","shape":"independent"},"axis":{"x":"independent","y":"independent"}},
"layer":[
{"data":{"name":"a"},"mark":{"type":"line","strokeWidth":1.2},
"encoding":{
"x":{"field":"x","type":"quantitative","scale":{"domain":[0,9.5],"nice":false,"zero":false},"axis":{"orient":"bottom","values":[0,2,4,6,8],"tickSize":-11,"labels":false,"title":null}},
"y":{"field":"y","type":"quantitative","scale":{"domain":[-0.0048,0.0898],"nice":false,"zero":false},"axis":{"orient":"left","values":[0,0.02,0.04,0.06,0.08],"format":".2f","tickSize":-11,"labelPadding":16,"labelFontSize":27,"title":"ρ  (mΩ·cm)","titleFontSize":30,"titlePadding":18,"titleY":186}},
"color":{"field":"s","type":"nominal","scale":{"domain":["0.2 T","0.5 T","1 T","2 T","3 T","4 T","5 T","6 T","7 T","8 T","9 T"],"range":["#000000","#FF0000","#00EE00","#0000FF","#00FFFF","#FF00FF","#FFFF00","#808000","#000080","#800080","#800000"]},"legend":null}}},
{"data":{"name":"a"},"mark":{"type":"point","filled":false,"size":105,"strokeWidth":1.1,"opacity":1},
"encoding":{
"x":{"field":"x","type":"quantitative","axis":{"orient":"bottom","values":[0.5,1,1.5,2,2.5,3,3.5,4,4.5,5,5.5,6,6.5,7,7.5,8,8.5,9],"tickSize":-6,"labels":false,"title":null}},
"y":{"field":"y","type":"quantitative","axis":{"orient":"left","values":[0.005,0.01,0.015,0.02,0.025,0.03,0.035,0.04,0.045,0.05,0.055,0.06,0.065,0.07,0.075,0.08,0.085],"tickSize":-6,"labels":false,"title":null}},
"color":{"field":"s","type":"nominal","scale":{"domain":["0.2 T","0.5 T","1 T","2 T","3 T","4 T","5 T","6 T","7 T","8 T","9 T"],"range":["#000000","#FF0000","#00EE00","#0000FF","#00FFFF","#FF00FF","#FFFF00","#808000","#000080","#800080","#800000"]},"legend":null},
"shape":{"field":"s","type":"nominal","scale":{"domain":["0.2 T","0.5 T","1 T","2 T","3 T","4 T","5 T","6 T","7 T","8 T","9 T"],"range":["square","circle","triangle-up","triangle-down","diamond","triangle-left","triangle-right","M0,-1L0.866,-0.5L0.866,0.5L0,1L-0.866,0.5L-0.866,-0.5Z","M0,-1L0.235,-0.324L0.951,-0.309L0.38,0.124L0.588,0.809L0,0.4L-0.588,0.809L-0.38,0.124L-0.951,-0.309L-0.235,-0.324Z","M0,-1L0.951,-0.309L0.588,0.809L-0.588,0.809L-0.951,-0.309Z","M-0.8,-0.8L0.8,0.8M-0.8,0.8L0.8,-0.8"]},"legend":null}}},
{"data":{"name":"a"},"mark":{"type":"point","filled":false,"opacity":0,"size":10,"strokeWidth":1.4},
"encoding":{
"x":{"field":"x","type":"quantitative","axis":null},
"y":{"field":"y","type":"quantitative","axis":null},
"color":{"field":"s","type":"nominal","scale":{"domain":["0.2 T","0.5 T","1 T","2 T","3 T","4 T","5 T","6 T","7 T","8 T","9 T"],"range":["#000000","#FF0000","#00EE00","#0000FF","#00FFFF","#FF00FF","#FFFF00","#808000","#000080","#800080","#800000"]},
"legend":{"title":null,"orient":"none","legendX":31,"legendY":83,"columns":2,"symbolSize":100,"symbolStrokeWidth":1.4,"symbolOpacity":1,"labelOffset":25.5,"rowPadding":7,"columnPadding":37.5,"padding":0}},
"shape":{"field":"s","type":"nominal","scale":{"domain":["0.2 T","0.5 T","1 T","2 T","3 T","4 T","5 T","6 T","7 T","8 T","9 T"],"range":["M-5.3,0H-0.85M0.85,0H5.3M-0.85,-0.85H0.85V0.85H-0.85Z","M-5.3,0H-0.9M0.9,0H5.3M-0.9,0A0.9,0.9,0,1,0,0.9,0A0.9,0.9,0,1,0,-0.9,0Z","M-5.3,0H-0.49M0.49,0H5.3M0,-0.9L0.9,0.75L-0.9,0.75Z","M-5.3,0H-0.49M0.49,0H5.3M0,0.9L0.9,-0.75L-0.9,-0.75Z","M-5.3,0H-0.95M0.95,0H5.3M0,-0.95L0.95,0L0,0.95L-0.95,0Z","M-5.3,0H-0.9M0.75,0H5.3M-0.9,0L0.75,-0.9L0.75,0.9Z","M-5.3,0H-0.75M0.9,0H5.3M0.9,0L-0.75,-0.9L-0.75,0.9Z","M-5.3,0H-0.78M0.78,0H5.3M0,-0.9L0.78,-0.45L0.78,0.45L0,0.9L-0.78,0.45L-0.78,-0.45Z","M-5.3,0H-0.54M0.54,0H5.3M0,-1L0.235,-0.324L0.951,-0.309L0.38,0.124L0.588,0.809L0,0.4L-0.588,0.809L-0.38,0.124L-0.951,-0.309L-0.235,-0.324Z","M-5.3,0H-0.81M0.81,0H5.3M0,-0.95L0.904,-0.294L0.559,0.769L-0.559,0.769L-0.904,-0.294Z","M-5.3,0H5.3M-0.85,-0.85L0.85,0.85M-0.85,0.85L0.85,-0.85"]},
"legend":{"title":null,"orient":"none","legendX":31,"legendY":83,"columns":2,"symbolSize":100,"symbolStrokeWidth":1.4,"symbolOpacity":1,"labelOffset":25.5,"rowPadding":7,"columnPadding":37.5,"padding":0}}}},
{"data":{"name":"ea"},"mark":{"type":"line","color":"#FF8C1A","strokeDash":[6,4],"strokeWidth":1.6},
"encoding":{"x":{"field":"x","type":"quantitative","axis":null},"y":{"field":"y","type":"quantitative","axis":null}}},
{"data":{"name":"ea"},"mark":{"type":"point","filled":true,"size":72,"opacity":1,"stroke":"#C85A00","strokeWidth":0.6,"fill":{"gradient":"radial","x1":0.38,"y1":0.35,"x2":0.5,"y2":0.5,"r1":0,"r2":0.6,"stops":[{"offset":0,"color":"#FFE2B8"},{"offset":0.45,"color":"#FF8C00"},{"offset":1,"color":"#D96A00"}]}},
"encoding":{"x":{"field":"x","type":"quantitative","axis":null},"y":{"field":"y","type":"quantitative","axis":null}}},
{"data":{"name":"ta"},"mark":{"type":"text","align":"left","baseline":"middle","font":"DejaVu Serif","fontSize":27,"color":"black"},
"encoding":{"x":{"field":"x","type":"quantitative","axis":null},"y":{"field":"y","type":"quantitative","axis":null},"text":{"field":"t"}}},
{"data":{"name":"ga"},"mark":{"type":"text","align":"left","baseline":"middle","font":"DejaVu Serif","fontSize":27,"fontStyle":"italic","color":"black"},
"encoding":{"x":{"field":"x","type":"quantitative","axis":null},"y":{"field":"y","type":"quantitative","axis":null},"text":{"field":"t"}}}
]},
{"width":651,"height":337,
"resolve":{"scale":{"color":"independent","shape":"independent"},"legend":{"color":"independent","shape":"independent"},"axis":{"x":"independent","y":"independent"}},
"layer":[
{"data":{"name":"b"},"mark":{"type":"line","strokeWidth":1.2},
"encoding":{
"x":{"field":"x","type":"quantitative","scale":{"domain":[0,9.5],"nice":false,"zero":false},"axis":{"orient":"bottom","values":[0,2,4,6,8],"tickSize":-11,"labels":false,"title":null}},
"y":{"field":"y","type":"quantitative","scale":{"domain":[-0.0049,0.1803],"nice":false,"zero":false},"axis":{"orient":"left","values":[0,0.04,0.08,0.12,0.16],"format":".2f","tickSize":-11,"labelPadding":16,"labelFontSize":27,"title":"ρ  (mΩ·cm)","titleFontSize":30,"titlePadding":18,"titleY":182}},
"color":{"field":"s","type":"nominal","scale":{"domain":["0.2 T","0.5 T","1 T","2 T","3 T","4 T","5 T","6 T","7 T","8 T","9 T"],"range":["#000000","#FF0000","#00EE00","#0000FF","#00FFFF","#FF00FF","#FFFF00","#808000","#000080","#800080","#800000"]},"legend":null}}},
{"data":{"name":"b"},"mark":{"type":"point","filled":false,"size":105,"strokeWidth":1.1,"opacity":1},
"encoding":{
"x":{"field":"x","type":"quantitative","axis":{"orient":"bottom","values":[0.5,1,1.5,2,2.5,3,3.5,4,4.5,5,5.5,6,6.5,7,7.5,8,8.5,9],"tickSize":-6,"labels":false,"title":null}},
"y":{"field":"y","type":"quantitative","axis":{"orient":"left","values":[0.01,0.02,0.03,0.04,0.05,0.06,0.07,0.08,0.09,0.1,0.11,0.12,0.13,0.14,0.15,0.16,0.17,0.18],"tickSize":-6,"labels":false,"title":null}},
"color":{"field":"s","type":"nominal","scale":{"domain":["0.2 T","0.5 T","1 T","2 T","3 T","4 T","5 T","6 T","7 T","8 T","9 T"],"range":["#000000","#FF0000","#00EE00","#0000FF","#00FFFF","#FF00FF","#FFFF00","#808000","#000080","#800080","#800000"]},"legend":null},
"shape":{"field":"s","type":"nominal","scale":{"domain":["0.2 T","0.5 T","1 T","2 T","3 T","4 T","5 T","6 T","7 T","8 T","9 T"],"range":["square","circle","triangle-up","triangle-down","diamond","triangle-left","triangle-right","M0,-1L0.866,-0.5L0.866,0.5L0,1L-0.866,0.5L-0.866,-0.5Z","M0,-1L0.235,-0.324L0.951,-0.309L0.38,0.124L0.588,0.809L0,0.4L-0.588,0.809L-0.38,0.124L-0.951,-0.309L-0.235,-0.324Z","M0,-1L0.951,-0.309L0.588,0.809L-0.588,0.809L-0.951,-0.309Z","M-0.8,-0.8L0.8,0.8M-0.8,0.8L0.8,-0.8"]},"legend":null}}},
{"data":{"name":"b"},"mark":{"type":"point","filled":false,"opacity":0,"size":10,"strokeWidth":1.4},
"encoding":{
"x":{"field":"x","type":"quantitative","axis":null},
"y":{"field":"y","type":"quantitative","axis":null},
"color":{"field":"s","type":"nominal","scale":{"domain":["0.2 T","0.5 T","1 T","2 T","3 T","4 T","5 T","6 T","7 T","8 T","9 T"],"range":["#000000","#FF0000","#00EE00","#0000FF","#00FFFF","#FF00FF","#FFFF00","#808000","#000080","#800080","#800000"]},
"legend":{"title":null,"orient":"none","legendX":27,"legendY":80,"columns":2,"symbolSize":100,"symbolStrokeWidth":1.4,"symbolOpacity":1,"labelOffset":25.5,"rowPadding":7,"columnPadding":37.5,"padding":0}},
"shape":{"field":"s","type":"nominal","scale":{"domain":["0.2 T","0.5 T","1 T","2 T","3 T","4 T","5 T","6 T","7 T","8 T","9 T"],"range":["M-5.3,0H-0.85M0.85,0H5.3M-0.85,-0.85H0.85V0.85H-0.85Z","M-5.3,0H-0.9M0.9,0H5.3M-0.9,0A0.9,0.9,0,1,0,0.9,0A0.9,0.9,0,1,0,-0.9,0Z","M-5.3,0H-0.49M0.49,0H5.3M0,-0.9L0.9,0.75L-0.9,0.75Z","M-5.3,0H-0.49M0.49,0H5.3M0,0.9L0.9,-0.75L-0.9,-0.75Z","M-5.3,0H-0.95M0.95,0H5.3M0,-0.95L0.95,0L0,0.95L-0.95,0Z","M-5.3,0H-0.9M0.75,0H5.3M-0.9,0L0.75,-0.9L0.75,0.9Z","M-5.3,0H-0.75M0.9,0H5.3M0.9,0L-0.75,-0.9L-0.75,0.9Z","M-5.3,0H-0.78M0.78,0H5.3M0,-0.9L0.78,-0.45L0.78,0.45L0,0.9L-0.78,0.45L-0.78,-0.45Z","M-5.3,0H-0.54M0.54,0H5.3M0,-1L0.235,-0.324L0.951,-0.309L0.38,0.124L0.588,0.809L0,0.4L-0.588,0.809L-0.38,0.124L-0.951,-0.309L-0.235,-0.324Z","M-5.3,0H-0.81M0.81,0H5.3M0,-0.95L0.904,-0.294L0.559,0.769L-0.559,0.769L-0.904,-0.294Z","M-5.3,0H5.3M-0.85,-0.85L0.85,0.85M-0.85,0.85L0.85,-0.85"]},
"legend":{"title":null,"orient":"none","legendX":27,"legendY":80,"columns":2,"symbolSize":100,"symbolStrokeWidth":1.4,"symbolOpacity":1,"labelOffset":25.5,"rowPadding":7,"columnPadding":37.5,"padding":0}}}},
{"data":{"name":"eb"},"mark":{"type":"line","color":"#FF8C1A","strokeDash":[6,4],"strokeWidth":1.6},
"encoding":{"x":{"field":"x","type":"quantitative","axis":null},"y":{"field":"y","type":"quantitative","axis":null}}},
{"data":{"name":"eb"},"mark":{"type":"point","filled":true,"size":72,"opacity":1,"stroke":"#C85A00","strokeWidth":0.6,"fill":{"gradient":"radial","x1":0.38,"y1":0.35,"x2":0.5,"y2":0.5,"r1":0,"r2":0.6,"stops":[{"offset":0,"color":"#FFE2B8"},{"offset":0.45,"color":"#FF8C00"},{"offset":1,"color":"#D96A00"}]}},
"encoding":{"x":{"field":"x","type":"quantitative","axis":null},"y":{"field":"y","type":"quantitative","axis":null}}},
{"data":{"name":"tb"},"mark":{"type":"text","align":"left","baseline":"middle","font":"DejaVu Serif","fontSize":27,"color":"black"},
"encoding":{"x":{"field":"x","type":"quantitative","axis":null},"y":{"field":"y","type":"quantitative","axis":null},"text":{"field":"t"}}},
{"data":{"name":"gb"},"mark":{"type":"text","align":"left","baseline":"middle","font":"DejaVu Serif","fontSize":27,"fontStyle":"italic","color":"black"},
"encoding":{"x":{"field":"x","type":"quantitative","axis":null},"y":{"field":"y","type":"quantitative","axis":null},"text":{"field":"t"}}}
]},
{"width":651,"height":337,
"resolve":{"scale":{"color":"independent","shape":"independent"},"legend":{"color":"independent","shape":"independent"},"axis":{"x":"independent","y":"independent"}},
"layer":[
{"data":{"name":"c"},"mark":{"type":"line","strokeWidth":1.2},
"encoding":{
"x":{"field":"x","type":"quantitative","scale":{"domain":[0,9.5],"nice":false,"zero":false},"axis":{"orient":"bottom","values":[0,2,4,6,8],"format":"d","tickSize":-11,"labelPadding":10,"labelFontSize":27,"title":"μ₀H̃","titleFontSize":33,"titleFontStyle":"italic","titlePadding":16}},
"y":{"field":"y","type":"quantitative","scale":{"domain":[-0.0057,0.27],"nice":false,"zero":false},"axis":{"orient":"left","values":[0,0.05,0.1,0.15,0.2,0.25],"format":".2f","tickSize":-11,"labelPadding":16,"labelFontSize":27,"title":"ρ  (mΩ·cm)","titleFontSize":30,"titlePadding":18,"titleY":168}},
"color":{"field":"s","type":"nominal","scale":{"domain":["0.2 T","0.5 T","1 T","2 T","3 T","4 T","5 T","6 T","7 T","8 T","9 T"],"range":["#000000","#FF0000","#00EE00","#0000FF","#00FFFF","#FF00FF","#FFFF00","#808000","#000080","#800080","#800000"]},"legend":null}}},
{"data":{"name":"c"},"mark":{"type":"point","filled":false,"size":105,"strokeWidth":1.1,"opacity":1},
"encoding":{
"x":{"field":"x","type":"quantitative","axis":{"orient":"bottom","values":[0.5,1,1.5,2,2.5,3,3.5,4,4.5,5,5.5,6,6.5,7,7.5,8,8.5,9],"tickSize":-6,"labels":false,"title":null}},
"y":{"field":"y","type":"quantitative","axis":{"orient":"left","values":[0.01,0.02,0.03,0.04,0.05,0.06,0.07,0.08,0.09,0.1,0.11,0.12,0.13,0.14,0.15,0.16,0.17,0.18,0.19,0.2,0.21,0.22,0.23,0.24,0.25,0.26],"tickSize":-6,"labels":false,"title":null}},
"color":{"field":"s","type":"nominal","scale":{"domain":["0.2 T","0.5 T","1 T","2 T","3 T","4 T","5 T","6 T","7 T","8 T","9 T"],"range":["#000000","#FF0000","#00EE00","#0000FF","#00FFFF","#FF00FF","#FFFF00","#808000","#000080","#800080","#800000"]},"legend":null},
"shape":{"field":"s","type":"nominal","scale":{"domain":["0.2 T","0.5 T","1 T","2 T","3 T","4 T","5 T","6 T","7 T","8 T","9 T"],"range":["square","circle","triangle-up","triangle-down","diamond","triangle-left","triangle-right","M0,-1L0.866,-0.5L0.866,0.5L0,1L-0.866,0.5L-0.866,-0.5Z","M0,-1L0.235,-0.324L0.951,-0.309L0.38,0.124L0.588,0.809L0,0.4L-0.588,0.809L-0.38,0.124L-0.951,-0.309L-0.235,-0.324Z","M0,-1L0.951,-0.309L0.588,0.809L-0.588,0.809L-0.951,-0.309Z","M-0.8,-0.8L0.8,0.8M-0.8,0.8L0.8,-0.8"]},"legend":null}}},
{"data":{"name":"c"},"mark":{"type":"point","filled":false,"opacity":0,"size":10,"strokeWidth":1.4},
"encoding":{
"x":{"field":"x","type":"quantitative","axis":null},
"y":{"field":"y","type":"quantitative","axis":null},
"color":{"field":"s","type":"nominal","scale":{"domain":["0.2 T","0.5 T","1 T","2 T","3 T","4 T","5 T","6 T","7 T","8 T","9 T"],"range":["#000000","#FF0000","#00EE00","#0000FF","#00FFFF","#FF00FF","#FFFF00","#808000","#000080","#800080","#800000"]},
"legend":{"title":null,"orient":"none","legendX":387,"legendY":147,"columns":2,"symbolSize":100,"symbolStrokeWidth":1.4,"symbolOpacity":1,"labelOffset":25.5,"rowPadding":7,"columnPadding":37.5,"padding":0}},
"shape":{"field":"s","type":"nominal","scale":{"domain":["0.2 T","0.5 T","1 T","2 T","3 T","4 T","5 T","6 T","7 T","8 T","9 T"],"range":["M-5.3,0H-0.85M0.85,0H5.3M-0.85,-0.85H0.85V0.85H-0.85Z","M-5.3,0H-0.9M0.9,0H5.3M-0.9,0A0.9,0.9,0,1,0,0.9,0A0.9,0.9,0,1,0,-0.9,0Z","M-5.3,0H-0.49M0.49,0H5.3M0,-0.9L0.9,0.75L-0.9,0.75Z","M-5.3,0H-0.49M0.49,0H5.3M0,0.9L0.9,-0.75L-0.9,-0.75Z","M-5.3,0H-0.95M0.95,0H5.3M0,-0.95L0.95,0L0,0.95L-0.95,0Z","M-5.3,0H-0.9M0.75,0H5.3M-0.9,0L0.75,-0.9L0.75,0.9Z","M-5.3,0H-0.75M0.9,0H5.3M0.9,0L-0.75,-0.9L-0.75,0.9Z","M-5.3,0H-0.78M0.78,0H5.3M0,-0.9L0.78,-0.45L0.78,0.45L0,0.9L-0.78,0.45L-0.78,-0.45Z","M-5.3,0H-0.54M0.54,0H5.3M0,-1L0.235,-0.324L0.951,-0.309L0.38,0.124L0.588,0.809L0,0.4L-0.588,0.809L-0.38,0.124L-0.951,-0.309L-0.235,-0.324Z","M-5.3,0H-0.81M0.81,0H5.3M0,-0.95L0.904,-0.294L0.559,0.769L-0.559,0.769L-0.904,-0.294Z","M-5.3,0H5.3M-0.85,-0.85L0.85,0.85M-0.85,0.85L0.85,-0.85"]},
"legend":{"title":null,"orient":"none","legendX":387,"legendY":147,"columns":2,"symbolSize":100,"symbolStrokeWidth":1.4,"symbolOpacity":1,"labelOffset":25.5,"rowPadding":7,"columnPadding":37.5,"padding":0}}}},
{"data":{"name":"ec"},"mark":{"type":"line","color":"#FF8C1A","strokeDash":[6,4],"strokeWidth":1.6},
"encoding":{"x":{"field":"x","type":"quantitative","axis":null},"y":{"field":"y","type":"quantitative","axis":null}}},
{"data":{"name":"ec"},"mark":{"type":"point","filled":true,"size":72,"opacity":1,"stroke":"#C85A00","strokeWidth":0.6,"fill":{"gradient":"radial","x1":0.38,"y1":0.35,"x2":0.5,"y2":0.5,"r1":0,"r2":0.6,"stops":[{"offset":0,"color":"#FFE2B8"},{"offset":0.45,"color":"#FF8C00"},{"offset":1,"color":"#D96A00"}]}},
"encoding":{"x":{"field":"x","type":"quantitative","axis":null},"y":{"field":"y","type":"quantitative","axis":null}}},
{"data":{"name":"tc"},"mark":{"type":"text","align":"left","baseline":"middle","font":"DejaVu Serif","fontSize":27,"color":"black"},
"encoding":{"x":{"field":"x","type":"quantitative","axis":null},"y":{"field":"y","type":"quantitative","axis":null},"text":{"field":"t"}}},
{"data":{"name":"gc"},"mark":{"type":"text","align":"left","baseline":"middle","font":"DejaVu Serif","fontSize":27,"fontStyle":"italic","color":"black"},
"encoding":{"x":{"field":"x","type":"quantitative","axis":null},"y":{"field":"y","type":"quantitative","axis":null},"text":{"field":"t"}}}
]}
]
}
